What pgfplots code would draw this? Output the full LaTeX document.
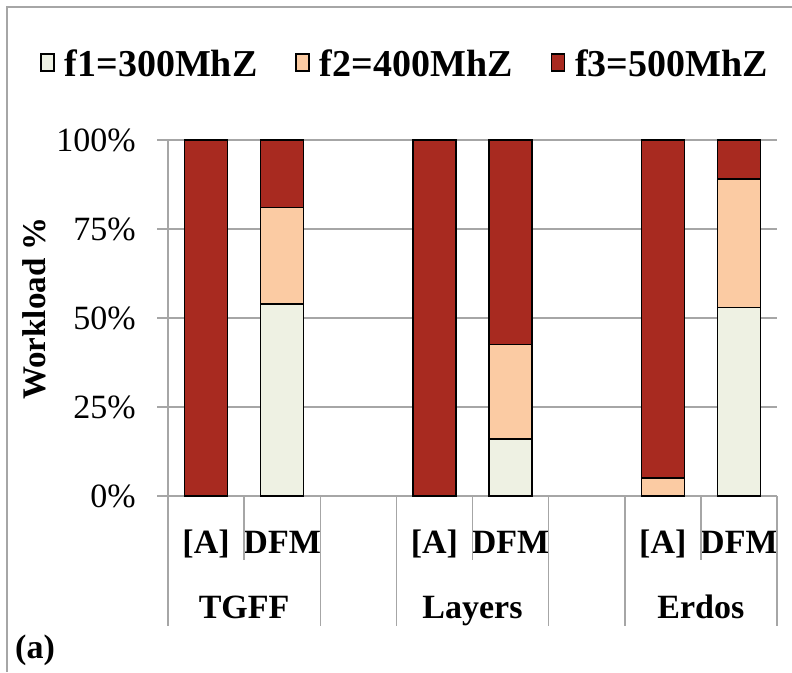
\documentclass[border=0pt]{standalone}
\usepackage{pgfplots}
\pgfplotsset{compat=1.18}
\usepackage{fontspec}
\setmainfont{Liberation Serif}
\definecolor{cf1}{RGB}{238,241,227}
\definecolor{cf2}{RGB}{251,203,163}
\definecolor{cf3}{RGB}{168,42,32}
\definecolor{gline}{RGB}{166,166,166}
\newcommand{\bigf}{\fontsize{34}{40}\selectfont}
\newcommand{\legf}{\fontsize{38}{44}\selectfont\bfseries}
\begin{document}
\begin{tikzpicture}[x=1pt,y=1pt]
\useasboundingbox (0,0) rectangle (792,672);
\draw[gline, line width=2pt] (7,0) -- (7,665) -- (792,665);
\begin{axis}[
  at={(168pt,176pt)}, anchor=south west,
  scale only axis, width=609pt, height=356pt,
  xmin=-0.5, xmax=7.5, ymin=0, ymax=100,
  ybar stacked, bar width=0.565,
  clip=false,
  axis lines*=left,
  axis line style={draw=gline, line width=1.5pt},
  ymajorgrids, grid style={draw=gline, line width=1.5pt},
  xtick=\empty,
  ytick={0,25,50,75,100},
  yticklabels={0\%,25\%,50\%,75\%,100\%},
  tick align=outside, major tick length=11pt,
  ytick style={draw=gline, line width=1.5pt},
  yticklabel style={font=\bigf, inner sep=0pt, xshift=-21pt},
  every axis plot/.append style={draw=black, line width=1.6pt},
  legend columns=3,
  legend style={draw=none, fill=none, at={(axis description cs:-0.21,1.216)}, anchor=west,
    font=\legf, inner sep=0pt,
    nodes={inner sep=0pt, text depth=0pt},
    /tikz/every odd column/.append style={column sep=10pt},
    /tikz/every even column/.append style={column sep=38pt}},
  legend image code/.code={\draw[#1, draw=black, line width=1.5pt] (0pt,-8pt) rectangle (13pt,9pt);},
]
\addplot[fill=cf1] coordinates {(0,0) (1,54) (3,0) (4,16) (6,0) (7,53)};
\addplot[fill=cf2] coordinates {(0,0) (1,27) (3,0) (4,26.5) (6,5) (7,36)};
\addplot[fill=cf3] coordinates {(0,100) (1,19) (3,100) (4,57.5) (6,95) (7,11)};
\legend{f1=300MhZ, f2=400MhZ, f3=500MhZ}
\pgfplotsinvokeforeach{-0.5,1.5,2.5,4.5,5.5,7.5}{
  \draw[gline, line width=1.5pt] (axis cs:#1,0) -- ++(0pt,-130pt);
}
\pgfplotsinvokeforeach{0.5,3.5,6.5}{
  \draw[gline, line width=1.5pt] (axis cs:#1,0) -- ++(0pt,-64pt);
}
\pgfplotsinvokeforeach{0,3,6}{
  \node[font=\bigf\bfseries, anchor=base, inner sep=0pt, yshift=-57pt] at (axis cs:#1,0) {[A]};
}
\pgfplotsinvokeforeach{1,4,7}{
  \node[font=\bigf\bfseries, anchor=base, inner sep=0pt, yshift=-57pt] at (axis cs:#1,0) {DFM};
}
\node[font=\bigf\bfseries, anchor=base, inner sep=0pt, yshift=-122pt] at (axis cs:0.5,0) {TGFF};
\node[font=\bigf\bfseries, anchor=base, inner sep=0pt, yshift=-122pt] at (axis cs:3.5,0) {Layers};
\node[font=\bigf\bfseries, anchor=base, inner sep=0pt, yshift=-122pt] at (axis cs:6.5,0) {Erdos};
\end{axis}
\node[rotate=90, anchor=base, font=\fontsize{33}{40}\selectfont\bfseries, inner sep=0pt] at (45,363.5) {Workload \%};
\node[anchor=base west, font=\bigf\bfseries, inner sep=0pt] at (15,14) {(a)};
\end{tikzpicture}
\end{document}
